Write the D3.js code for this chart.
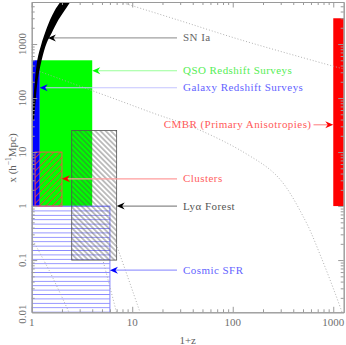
<!DOCTYPE html>
<html>
<head>
<meta charset="utf-8">
<script src="https://cdn.jsdelivr.net/npm/d3@7"></script>
<style>
    html, body { margin: 0; padding: 0; background: #fff; }
    svg { display: block; }
</style>
</head>
<body>
<div id="chart"></div>
<script>
// axis extents and ticks
const xDomain = [1, 1270];
const yDomain = [0.0108, 6000];
const xMajorTicks = [1, 10, 100, 1000];
const yMajorTicks = [0.01, 0.1, 1, 10, 100, 1000];
const xTickLabels = ['1', '10', '100', '1000'];
const yTickLabels = ['0.01', '0.1', '1', '10', '100', '1000'];

// survey regions: [1+z min, 1+z max, x min, x max]
const galaxyBox = [1, 1.2, 1, 500];
const qsoBox = [1.2, 4, 1, 500];
const clusterBox = [1.08, 2, 1, 10];
const lyaBox = [2.5, 7, 0.1, 25];
const sfrBox = [1, 6, 0.01, 1];
const cmbBox = [1000, 1300, 1, 3000];

// SN Ia band: distance and the two edges in 1+z
const snDist = [39, 92, 215, 505, 1043, 1600, 2782, 4265, 6500];
const snZLow = [1.014, 1.037, 1.078, 1.137, 1.257, 1.356, 1.52, 1.705, 1.99];
const snZHigh = [1.054, 1.096, 1.147, 1.257, 1.41, 1.58, 1.84, 2.14, 2.5];

// dotted curves, [1+z, x]
const dotA = [[7.6, 6000], [28.6, 2780], [121, 1190], [995, 390], [1270, 345]];
const dotB = [[1.2, 310], [6.0, 104], [16.1, 52.7], [42.2, 27.8], [132.6, 9.58],
              [282, 3.44], [524, 0.55], [756, 0.114], [1042, 0.0245], [1223, 0.0108]];
const dotC = [[1, 0.255], [1.52, 0.06], [2.35, 0.0108]];
const dotD = [[6.6, 0.25], [7.27, 0.153], [11.96, 0.0108]];
const dotE = [[5.08, 0.104], [6.98, 0.0108]];

// annotations: label, arrow tip (1+z, x)
const annLabels = ['SN Ia', 'QSO Redshift Surveys', 'Galaxy Redshift Surveys',
                   'CMBR (Primary Anisotropies)', 'Clusters', 'Lyα Forest', 'Cosmic SFR'];
const annTipZ = [1.45, 4, 1.2, 1000, 2, 7, 6];
const annTipX = [1300, 320, 155, 32, 3.2, 1, 0.065];

const annStyle = [
    {text: '#666666', line: '#a0a0a0', head: '#000000'},
    {text: '#55ee55', line: '#99ff99', head: '#00ff00'},
    {text: '#6464ff', line: '#c4c4ff', head: '#0000ff'},
    {text: '#ff5a5a', line: '#ff9090', head: '#ff0000'},
    {text: '#ff6060', line: '#ff9c9c', head: '#ff0000'},
    {text: '#555555', line: '#8a8a8a', head: '#000000'},
    {text: '#6464ff', line: '#9a9aff', head: '#0000ff'}
];

const width = 346, height = 345;
const margin = {top: 2, right: 2.3, bottom: 32.7, left: 31.7};
const plotW = width - margin.left - margin.right;
const plotH = height - margin.top - margin.bottom;

const svg = d3.select('#chart').append('svg')
    .attr('width', width)
    .attr('height', height);

const defs = svg.append('defs');
defs.append('clipPath').attr('id', 'plotClip')
    .append('rect').attr('width', plotW).attr('height', plotH);

function hatch(id, spacing, angle, color, w) {
    let p = defs.append('pattern')
        .attr('id', id)
        .attr('patternUnits', 'userSpaceOnUse')
        .attr('width', spacing)
        .attr('height', 10)
        .attr('patternTransform', 'rotate(' + angle + ')');
    p.append('line')
        .attr('x1', spacing / 2).attr('x2', spacing / 2)
        .attr('y1', -1).attr('y2', 11)
        .attr('stroke', color)
        .attr('stroke-width', w);
}
hatch('hatchRed', 4.6, 45, '#f03a3a', 0.8);
hatch('hatchGray', 3.7, -45, '#505050', 0.75);

const x = d3.scaleLog().domain(xDomain).range([0, plotW]);
const y = d3.scaleLog().domain(yDomain).range([plotH, 0]);

defs.append('pattern')
    .attr('id', 'hatchBlue')
    .attr('patternUnits', 'userSpaceOnUse')
    .attr('width', 10)
    .attr('height', 4.4)
    .attr('y', y(1))
    .append('line')
    .attr('x1', -1).attr('x2', 11)
    .attr('y1', 0.4).attr('y2', 0.4)
    .attr('stroke', '#8484ff')
    .attr('stroke-width', 0.9);

const chartLayer = svg.append('g')
    .attr('transform', 'translate(' + margin.left + ',' + margin.top + ')');
const plot = chartLayer.append('g').attr('clip-path', 'url(#plotClip)');

function drawBox(b, fill, stroke, sw) {
    plot.append('rect')
        .attr('x', x(b[0]))
        .attr('y', y(b[3]))
        .attr('width', x(b[1]) - x(b[0]))
        .attr('height', y(b[2]) - y(b[3]))
        .attr('fill', fill)
        .attr('stroke', stroke || 'none')
        .attr('stroke-width', sw || 1);
}

drawBox(qsoBox, '#00ff00');
drawBox(galaxyBox, '#0000ff');
drawBox(sfrBox, 'url(#hatchBlue)', '#8484ff', 1);
drawBox(clusterBox, 'url(#hatchRed)', '#ff5050', 0.9);
drawBox(lyaBox, 'url(#hatchGray)', '#505050', 0.8);
drawBox(cmbBox, '#ff0000');

// dotted curves
let dotLine = d3.line()
    .x(function(d) { return x(d[0]); })
    .y(function(d) { return y(d[1]); })
    .curve(d3.curveCatmullRom);
[dotA, dotB, dotC, dotD, dotE].forEach(function(c) {
    plot.append('path')
        .datum(c)
        .attr('d', dotLine)
        .attr('fill', 'none')
        .attr('stroke', '#a8a8a8')
        .attr('stroke-width', 0.9)
        .attr('stroke-dasharray', '1,2');
});

// SN Ia band
let snData = snDist.map(function(d, i) { return {d: d, lo: snZLow[i], hi: snZHigh[i]}; });
let snArea = d3.area()
    .y(function(d) { return y(d.d); })
    .x0(function(d) { return x(d.lo); })
    .x1(function(d) { return x(d.hi); })
    .curve(d3.curveCatmullRom);
plot.append('path')
    .datum(snData)
    .attr('d', snArea)
    .attr('fill', '#000');

// annotations
const labelX = 183 - margin.left;
annLabels.forEach(function(label, i) {
    let st = annStyle[i];
    let tx = x(annTipZ[i]), ty = y(annTipX[i]);
    let toRight = i === 3;
    let lineStart, head;
    if (toRight) {
        lineStart = 313.5 - margin.left;
        head = 'M' + tx + ',' + ty + 'l-8,-3.5l2.5,3.5l-2.5,3.5z';
        chartLayer.append('line')
            .attr('x1', lineStart).attr('x2', tx - 5)
            .attr('y1', ty).attr('y2', ty)
            .attr('stroke', st.line).attr('stroke-width', 1.2);
    } else {
        lineStart = labelX - 6;
        head = 'M' + tx + ',' + ty + 'l8,-3.5l-2.5,3.5l2.5,3.5z';
        chartLayer.append('line')
            .attr('x1', lineStart).attr('x2', tx + 5)
            .attr('y1', ty).attr('y2', ty)
            .attr('stroke', st.line).attr('stroke-width', 1.2);
    }
    chartLayer.append('path')
        .attr('d', head)
        .attr('fill', st.head);
    chartLayer.append('text')
        .text(label)
        .attr('x', toRight ? 311.5 - margin.left : labelX)
        .attr('y', ty + 3.6)
        .attr('text-anchor', toRight ? 'end' : 'start')
        .attr('fill', st.text)
        .attr('font-family', 'Liberation Serif, serif')
        .attr('font-size', 11)
        .attr('letter-spacing', 0.45);
});

// axes, ticks pointing inward on all four sides
function minorTicks(domain) {
    let t = [];
    for (let e = -3; e <= 4; e++) {
        for (let m = 2; m <= 9; m++) {
            let v = m * Math.pow(10, e);
            if (v > domain[0] && v < domain[1]) t.push(v);
        }
    }
    return t;
}
let xMajIn = xMajorTicks.filter(function(v) { return v >= xDomain[0] && v <= xDomain[1]; });
let yMajIn = yMajorTicks.filter(function(v) { return v >= yDomain[0] && v <= yDomain[1]; });
let xMinor = minorTicks(xDomain), yMinor = minorTicks(yDomain);

function styleAxis(g) {
    g.selectAll('path').attr('stroke', '#9a9a9a');
    g.selectAll('line').attr('stroke', '#9a9a9a');
    g.selectAll('text').remove();
}
let axes = [
    [d3.axisBottom, x, xMajIn, xMinor, 'translate(0,' + plotH + ')'],
    [d3.axisTop, x, xMajIn, xMinor, null],
    [d3.axisLeft, y, yMajIn, yMinor, null],
    [d3.axisRight, y, yMajIn, yMinor, 'translate(' + plotW + ',0)']
];
axes.forEach(function(a) {
    let gMaj = chartLayer.append('g')
        .call(a[0](a[1]).tickValues(a[2]).tickSizeInner(-5.5).tickSizeOuter(0).tickFormat(''));
    let gMin = chartLayer.append('g')
        .call(a[0](a[1]).tickValues(a[3]).tickSizeInner(-3).tickSizeOuter(0).tickFormat(''));
    if (a[4]) { gMaj.attr('transform', a[4]); gMin.attr('transform', a[4]); }
    styleAxis(gMaj);
    styleAxis(gMin);
});

// tick labels
xMajorTicks.forEach(function(v, i) {
    chartLayer.append('text')
        .text(xTickLabels[i])
        .attr('x', x(v))
        .attr('y', plotH + 13.5)
        .attr('text-anchor', 'middle')
        .attr('fill', '#707070')
        .attr('font-family', 'Liberation Serif, serif')
        .attr('font-size', 11);
});
yMajorTicks.forEach(function(v, i) {
    chartLayer.append('text')
        .text(yTickLabels[i])
        .attr('transform', 'translate(-5.5,' + y(v) + ') rotate(-90)')
        .attr('text-anchor', 'middle')
        .attr('fill', '#707070')
        .attr('font-family', 'Liberation Serif, serif')
        .attr('font-size', 11);
});

// axis titles
chartLayer.append('text')
    .text('1+z')
    .attr('x', plotW / 2)
    .attr('y', height - margin.top - 1.5)
    .attr('text-anchor', 'middle')
    .attr('fill', '#606060')
    .attr('font-family', 'Liberation Serif, serif')
    .attr('font-size', 11);

let yTitle = chartLayer.append('text')
    .attr('transform', 'translate(' + (15.5 - margin.left) + ',' + (158 - margin.top) + ') rotate(-90)')
    .attr('text-anchor', 'middle')
    .attr('fill', '#606060')
    .attr('font-family', 'Liberation Serif, serif')
    .attr('font-size', 11);
yTitle.append('tspan').text('x (h');
yTitle.append('tspan').text('−1').attr('font-size', 7.5).attr('dy', -4.2);
yTitle.append('tspan').text('Mpc)').attr('dy', 4.2);
</script>
</body>
</html>
